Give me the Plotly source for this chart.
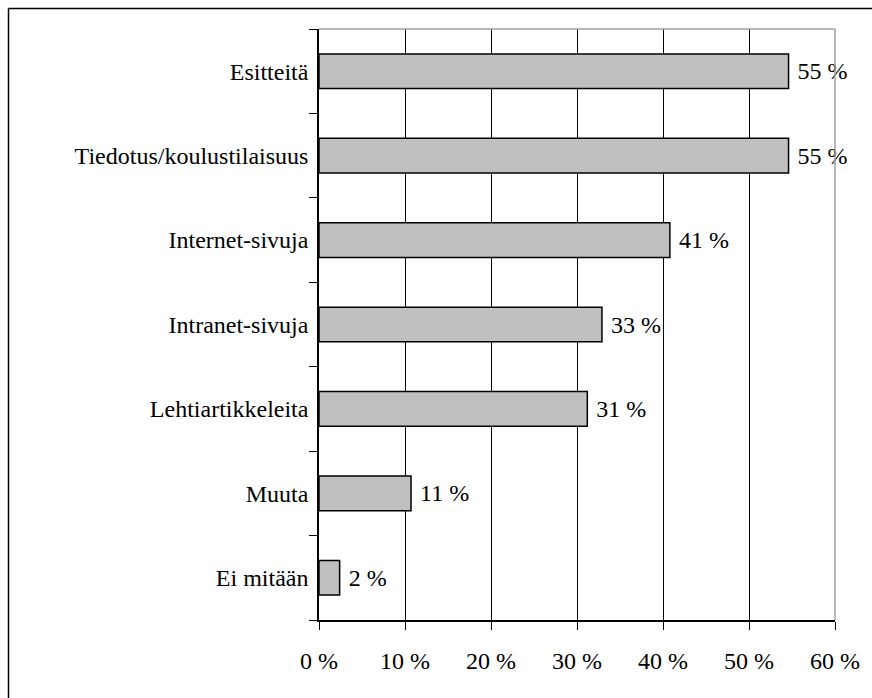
import plotly.graph_objects as go

# Survey shares by material type (percent of respondents)
categories = ["Esitteitä", "Tiedotus/koulustilaisuus", "Internet-sivuja",
              "Intranet-sivuja", "Lehtiartikkeleita", "Muuta", "Ei mitään"]
shares = [54.6, 54.6, 40.8, 32.9, 31.2, 10.7, 2.4]
tick_values = [0, 10, 20, 30, 40, 50, 60]
tick_labels = ["0 %", "10 %", "20 %", "30 %", "40 %", "50 %", "60 %"]

W, H = 872, 698
L, R, T, B = 319, 37, 29, 78
pw, ph = W - L - R, H - T - B

font = dict(family="Liberation Serif", size=24, color="black")

fig = go.Figure(go.Bar(
    x=shares,
    y=categories,
    orientation="h",
    width=0.41,
    marker=dict(color="#C0C0C0", line=dict(color="black", width=1.5)),
    texttemplate="\u00a0%{x:.0f} %",
    textposition="outside",
    textfont=font,
    cliponaxis=False,
    hoverinfo="skip",
))

def px_x(p):
    return (p - L) / pw

def px_y(p):
    return (H - B - p) / ph

shapes = [
    # plot-area frame on top and right
    dict(type="line", xref="paper", yref="paper", x0=0, x1=1, y0=1, y1=1,
         line=dict(color="#A0A0A0", width=1.5)),
    dict(type="line", xref="paper", yref="paper", x0=1, x1=1, y0=0, y1=1,
         line=dict(color="#A0A0A0", width=1.5)),
    # outer chart frame
    dict(type="line", xref="paper", yref="paper", x0=px_x(8.5), x1=px_x(W + 5),
         y0=px_y(8.5), y1=px_y(8.5), line=dict(color="black", width=1.5)),
    dict(type="line", xref="paper", yref="paper", x0=px_x(8.5), x1=px_x(8.5),
         y0=px_y(8.5), y1=px_y(H + 5), line=dict(color="black", width=1.5)),
]

fig.update_layout(
    width=W, height=H,
    margin=dict(l=L, r=R, t=T, b=B, pad=0),
    paper_bgcolor="white",
    plot_bgcolor="white",
    font=font,
    showlegend=False,
    shapes=shapes,
    uniformtext=dict(mode=False),
    xaxis=dict(
        range=[0, 60],
        tickvals=tick_values,
        ticktext=tick_labels,
        showgrid=True, gridcolor="black", gridwidth=1,
        zeroline=False,
        showline=True, linecolor="black", linewidth=1.5,
        ticks="outside", ticklen=8, tickcolor="black", tickwidth=1,
        ticklabelstandoff=10,
        tickfont=font,
        fixedrange=True,
    ),
    yaxis=dict(
        categoryorder="array",
        categoryarray=categories[::-1],
        tickson="boundaries",
        showgrid=False,
        zeroline=False,
        showline=True, linecolor="black", linewidth=1.5,
        ticks="outside", ticklen=8, tickcolor="black", tickwidth=1,
        ticklabelstandoff=4,
        tickfont=font,
        fixedrange=True,
    ),
)

fig.write_html("out.html")
